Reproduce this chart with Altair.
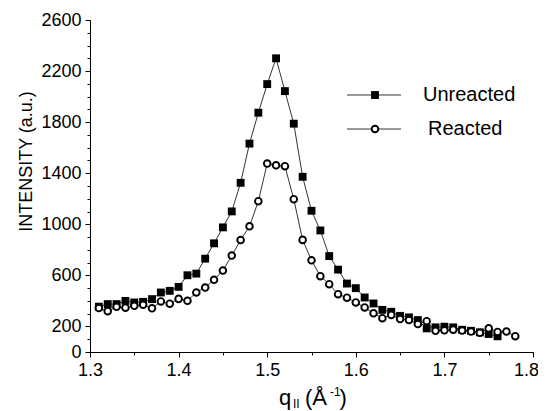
import altair as alt
import pandas as pd

# ---- data ----
q_unreacted = [1.31, 1.32, 1.33, 1.34, 1.35, 1.36, 1.37, 1.38, 1.39, 1.40,
               1.41, 1.42, 1.43, 1.44, 1.45, 1.46, 1.47, 1.48, 1.49, 1.50,
               1.51, 1.52, 1.53, 1.54, 1.55, 1.56, 1.57, 1.58, 1.59, 1.60,
               1.61, 1.62, 1.63, 1.64, 1.65, 1.66, 1.67, 1.68, 1.69, 1.70,
               1.71, 1.72, 1.73, 1.74, 1.75, 1.76]
i_unreacted = [355, 375, 375, 400, 388, 393, 414, 466, 479, 510,
               601, 614, 731, 851, 976, 1101, 1325, 1632, 1874, 2098,
               2300, 2043, 1788, 1372, 1106, 952, 751, 645, 536, 500,
               427, 380, 330, 315, 283, 271, 250, 185, 193, 198,
               193, 174, 166, 154, 141, 123]

q_reacted = [1.31, 1.32, 1.33, 1.34, 1.35, 1.36, 1.37, 1.38, 1.39, 1.40,
             1.41, 1.42, 1.43, 1.44, 1.45, 1.46, 1.47, 1.48, 1.49, 1.50,
             1.51, 1.52, 1.53, 1.54, 1.55, 1.56, 1.57, 1.58, 1.59, 1.60,
             1.61, 1.62, 1.63, 1.64, 1.65, 1.66, 1.67, 1.68, 1.69, 1.70,
             1.71, 1.72, 1.73, 1.74, 1.75, 1.76, 1.77, 1.78]
i_reacted = [344, 320, 354, 347, 362, 370, 342, 396, 378, 416,
             401, 466, 505, 565, 638, 755, 877, 984, 1181, 1476,
             1462, 1455, 1197, 878, 718, 594, 531, 453, 425, 388,
             349, 303, 265, 290, 258, 250, 219, 241, 166, 170,
             175, 168, 160, 150, 185, 157, 160, 124]

series_names = ["Unreacted", "Reacted"]
x_ticks = [1.3, 1.4, 1.5, 1.6, 1.7, 1.8]
x_minor = [1.3, 1.35, 1.4, 1.45, 1.5, 1.55, 1.6, 1.65, 1.7, 1.75, 1.8]
y_ticks = [0, 200, 600, 1000, 1400, 1800, 2200, 2600]
y_minor = [0, 100, 200, 300, 400, 500, 600, 700, 800, 900, 1000, 1100, 1200,
           1300, 1400, 1500, 1600, 1700, 1800, 1900, 2000, 2100, 2200, 2300,
           2400, 2500, 2600]

df_u = pd.DataFrame({"q": q_unreacted, "v": i_unreacted, "series": series_names[0]})
df_r = pd.DataFrame({"q": q_reacted, "v": i_reacted, "series": series_names[1]})
df = pd.concat([df_u, df_r], ignore_index=True)

FONT = "Liberation Sans"

xs = alt.Scale(domain=[1.3, 1.8], nice=False, zero=False)
ys = alt.Scale(domain=[0, 2600], nice=False, zero=False)

x_major_axis = alt.Axis(values=x_ticks, format=".1f", orient="bottom", title=None,
                        grid=False, tickSize=5, labelPadding=4, labelFontSize=18,
                        labelFont=FONT, labelColor="black", tickColor="black",
                        domainColor="black", labelFlush=False,
                        labelOffset={"condition": {"test": "datum.value > 1.79", "value": -7},
                                     "value": 0})
x_minor_axis = alt.Axis(values=x_minor, orient="bottom", title=None, grid=False,
                        labels=False, domain=False, tickSize=3, tickColor="black")
y_major_axis = alt.Axis(values=y_ticks, format="d", orient="left",
                        title="INTENSITY (a.u.)",
                        grid=False, tickSize=5, labelPadding=4, labelFontSize=18,
                        labelFont=FONT, labelColor="black", tickColor="black",
                        domainColor="black", labelFlush=False,
                        titleFont=FONT, titleFontSize=18, titleFontWeight="normal",
                        titleColor="black", titleAngle=270, titleAlign="center",
                        titleBaseline="bottom", titleX=-55, titleY=141)
y_minor_axis = alt.Axis(values=y_minor, orient="left", title=None, grid=False,
                        labels=False, domain=False, tickSize=3, tickColor="black")

lines = alt.Chart(df).mark_line(color="black", strokeWidth=0.8).encode(
    x=alt.X("q:Q", scale=xs, axis=x_major_axis),
    y=alt.Y("v:Q", scale=ys, axis=y_major_axis),
    detail="series:N",
)

squares = alt.Chart(df_u).mark_square(color="black", size=62, opacity=1).encode(
    x=alt.X("q:Q", scale=xs, axis=x_minor_axis),
    y=alt.Y("v:Q", scale=ys, axis=y_minor_axis),
)

circles = alt.Chart(df_r).mark_point(shape="circle", filled=True, fill="white",
                                     stroke="black", strokeWidth=1.9, size=44,
                                     opacity=1).encode(
    x=alt.X("q:Q", scale=xs, axis=None),
    y=alt.Y("v:Q", scale=ys, axis=None),
)

one = alt.Data(values=[{"k": 1}])

# legend (drawn)
leg_line_u = alt.Chart(one).mark_rule(color="black", strokeWidth=0.8).encode(
    x=alt.value(257), x2=alt.value(311), y=alt.value(75))
leg_line_r = alt.Chart(one).mark_rule(color="black", strokeWidth=0.8).encode(
    x=alt.value(257), x2=alt.value(311), y=alt.value(109))
leg_sq = alt.Chart(one).mark_square(color="black", size=62, opacity=1).encode(
    x=alt.value(285), y=alt.value(75))
leg_ci = alt.Chart(one).mark_point(shape="circle", filled=True, fill="white",
                                   stroke="black", strokeWidth=1.9, size=44,
                                   opacity=1).encode(
    x=alt.value(285), y=alt.value(109))
leg_tu = alt.Chart(one).mark_text(text=series_names[0], font=FONT, fontSize=20,
                                  align="left", baseline="middle", color="black").encode(
    x=alt.value(333), y=alt.value(75))
leg_tr = alt.Chart(one).mark_text(text=series_names[1], font=FONT, fontSize=20,
                                  align="left", baseline="middle", color="black").encode(
    x=alt.value(338), y=alt.value(109))

# x-axis title: q_II (Å^-1)
def txt(t, x, y, size):
    return alt.Chart(one).mark_text(text=t, font=FONT, fontSize=size, align="left",
                                    baseline="alphabetic", color="black").encode(
        x=alt.value(x), y=alt.value(y))

xt_q = txt("q", 189, 385, 22)
xt_sub = txt("II", 203, 388, 12)
xt_open = txt("(Å", 215, 385, 22)
xt_sup = txt("-1", 240, 376, 12)
xt_close = txt(")", 249.5, 385, 22)

chart = alt.layer(
    lines, squares, circles,
    leg_line_u, leg_line_r, leg_sq, leg_ci, leg_tu, leg_tr,
    xt_q, xt_sub, xt_open, xt_sup, xt_close,
).resolve_axis(x="independent", y="independent").properties(
    width=443, height=332,
    autosize=alt.AutoSizeParams(type="none"),
    padding={"left": 82, "top": 12, "right": 5, "bottom": 60},
    background="white",
).configure_view(stroke=None).configure_axis(domainWidth=1, tickWidth=1)

chart.save("out.html", embed_options={"renderer": "svg", "actions": False})
